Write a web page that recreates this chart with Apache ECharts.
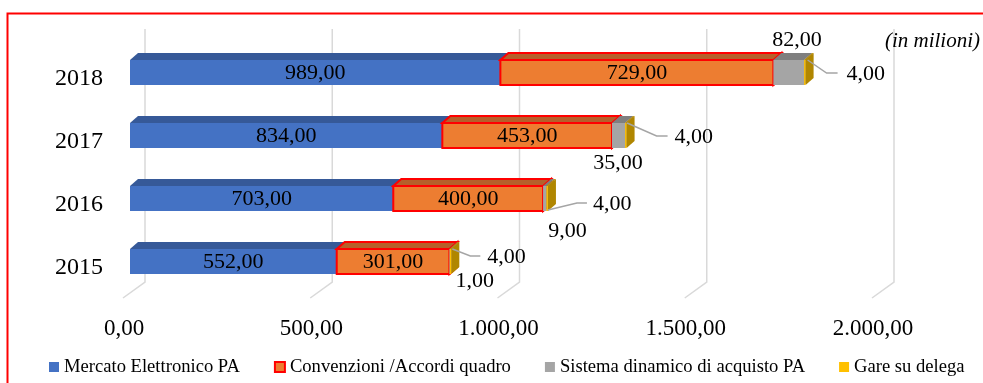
<!DOCTYPE html>
<html>
<head>
<meta charset="utf-8">
<script src="https://cdn.jsdelivr.net/npm/echarts@6/dist/echarts.min.js"></script>
<style>
  html, body { margin: 0; padding: 0; background: #fff; }
  #chart { width: 983px; height: 383px; }
</style>
</head>
<body>
<div id="chart"></div>
<script>
// valori (in milioni)
const years = ['2015', '2016', '2017', '2018']
const mepa = [552, 703, 834, 989]
const convenzioni = [301, 400, 453, 729]
const sda = [1, 9, 35, 82]
const delega = [4, 4, 4, 4]
const xTicks = [0, 500, 1000, 1500, 2000]

const seriesNames = ['Mercato Elettronico PA', 'Convenzioni /Accordi quadro', 'Sistema dinamico di acquisto PA', 'Gare su delega']
const FONT = '"Liberation Serif", "Times New Roman", serif'
const BAR_H = 25
const DX = 8
const DY = 7

function fmt(v) {
  const parts = v.toFixed(2).split('.')
  return parts[0].replace(/\B(?=(\d{3})+(?!\d))/g, '.') + ',' + parts[1]
}

// facce: frontale, superiore, laterale
const faces = [
  { front: '#4472C4', top: '#365998', side: '#2F4F88', stroke: null },
  { front: '#ED7D31', top: '#B5602B', side: '#B5602B', stroke: '#FF0000' },
  { front: '#A5A5A5', top: '#7F7F7F', side: '#7F7F7F', stroke: null },
  { front: '#FFC000', top: '#BF9000', side: '#B08600', stroke: null }
]

// posizione etichette per il sistema dinamico (rispetto alla fine del segmento)
const sdaLabelPos = [[25, 19.5], [21, 32.5], [-7, 27.5], [-7, -32.5]]
// linee guida per le gare su delega
const delegaGuide = [
  [[1, -12.5], [19, -5.5], [29, -5.5], 36],
  [[0, 11.5], [29, 4.5], [39, 4.5], 45],
  [[0.5, -12.5], [30, 0.5], [41, 0.5], 48],
  [[2, -12.5], [21, 0.5], [32, 0.5], 41]
]

const stacks = [mepa, convenzioni, sda, delega]
function buildData(k) {
  return years.map((y, i) => {
    let start = 0
    for (let j = 0; j < k; j++) start += stacks[j][i]
    return [start, i, start + stacks[k][i], stacks[k][i]]
  })
}

function makeRender(k) {
  const f = faces[k]
  return function (params, api) {
    const idx = params.dataIndex
    const a = api.coord([api.value(0), api.value(1)])
    const b = api.coord([api.value(2), api.value(1)])
    const x0 = a[0]
    const x1 = b[0]
    const c = a[1]
    const y0 = c - BAR_H / 2
    const lw = f.stroke ? 2 : 0
    const children = [
      {
        type: 'polygon',
        shape: { points: [[x1, y0], [x1 + DX, y0 - DY], [x1 + DX, y0 + BAR_H - DY], [x1, y0 + BAR_H]] },
        style: { fill: f.side, stroke: f.stroke, lineWidth: lw }
      },
      {
        type: 'polygon',
        shape: { points: [[x0, y0], [x0 + DX, y0 - DY], [x1 + DX, y0 - DY], [x1, y0]] },
        style: { fill: f.top, stroke: f.stroke, lineWidth: lw }
      },
      {
        type: 'rect',
        shape: { x: x0, y: y0, width: Math.max(x1 - x0, 0.8), height: BAR_H },
        style: { fill: f.front, stroke: f.stroke, lineWidth: lw }
      }
    ]
    const txt = fmt(api.value(3))
    if (k < 2) {
      children.push({
        type: 'text',
        style: { text: txt, x: (x0 + x1) / 2, y: c + 1, align: 'center', verticalAlign: 'middle', fill: '#000', font: '22px ' + FONT }
      })
    } else if (k === 2) {
      const p = sdaLabelPos[idx]
      children.push({
        type: 'text',
        style: { text: txt, x: x1 + p[0], y: c + p[1], align: 'center', verticalAlign: 'middle', fill: '#000', font: '22px ' + FONT }
      })
    } else {
      const g = delegaGuide[idx]
      children.push({
        type: 'polyline',
        shape: { points: [[x1 + g[0][0], c + g[0][1]], [x1 + g[1][0], c + g[1][1]], [x1 + g[2][0], c + g[2][1]]] },
        style: { stroke: '#A5A5A5', lineWidth: 1.5, fill: null }
      })
      children.push({
        type: 'text',
        style: { text: txt, x: x1 + g[3], y: c + g[2][1] + 1, align: 'left', verticalAlign: 'middle', fill: '#000', font: '22px ' + FONT }
      })
    }
    return { type: 'group', children }
  }
}

function renderGridLine(params, api) {
  const cs = params.coordSys
  const x = api.coord([api.value(0), 0])[0]
  const bottom = cs.y + cs.height
  return {
    type: 'polyline',
    shape: { points: [[x + 15, cs.y - 12], [x + 15, bottom - 11], [x - 7, bottom + 5]] },
    style: { stroke: '#D9D9D9', lineWidth: 1.5, fill: null }
  }
}

const chart = echarts.init(document.getElementById('chart'))
const series = [
  {
    name: 'griglia',
    type: 'custom',
    renderItem: renderGridLine,
    data: xTicks.map((t) => [t, 0]),
    encode: { x: 0, y: 1 },
    silent: true,
    z: 1
  }
]
seriesNames.forEach((name, k) => {
  series.push({
    name,
    type: 'custom',
    renderItem: makeRender(k),
    data: buildData(k),
    encode: { x: [0, 2], y: 1 },
    itemStyle: { color: faces[k].front, borderColor: faces[k].stroke || faces[k].front, borderWidth: faces[k].stroke ? 1.5 : 0 },
    z: 2 + k
  })
})

chart.setOption({
  animation: false,
  backgroundColor: '#fff',
  title: {
    text: '(in milioni)',
    right: 3,
    top: 31,
    padding: 0,
    textStyle: { fontFamily: FONT, fontStyle: 'italic', fontWeight: 'normal', fontSize: 21, color: '#000' }
  },
  legend: {
    data: seriesNames,
    left: 49,
    top: 357,
    padding: 0,
    icon: 'rect',
    itemWidth: 10,
    itemHeight: 10,
    itemGap: 34,
    textStyle: { fontFamily: FONT, fontSize: 18.6, color: '#000', lineHeight: 20 }
  },
  grid: { left: 130, top: 41, width: 749, height: 252, outerBoundsMode: 'none' },
  xAxis: {
    type: 'value',
    min: 0,
    max: 2000,
    interval: 500,
    axisLine: { show: false },
    axisTick: { show: false },
    splitLine: { show: false },
    axisLabel: { formatter: fmt, fontFamily: FONT, fontSize: 23, color: '#000', margin: 24, lineHeight: 24, padding: [0, 12, 0, 0] }
  },
  yAxis: {
    type: 'category',
    data: years,
    axisLine: { show: false },
    axisTick: { show: false },
    splitLine: { show: false },
    axisLabel: { fontFamily: FONT, fontSize: 24, color: '#000', margin: 27, verticalAlign: 'top', lineHeight: 13 }
  },
  graphic: [
    {
      type: 'rect',
      shape: { x: 7.5, y: 13.5, width: 1000, height: 400 },
      style: { fill: null, stroke: '#FF0000', lineWidth: 2 },
      silent: true,
      z: 100
    }
  ],
  series
})
</script>
</body>
</html>
